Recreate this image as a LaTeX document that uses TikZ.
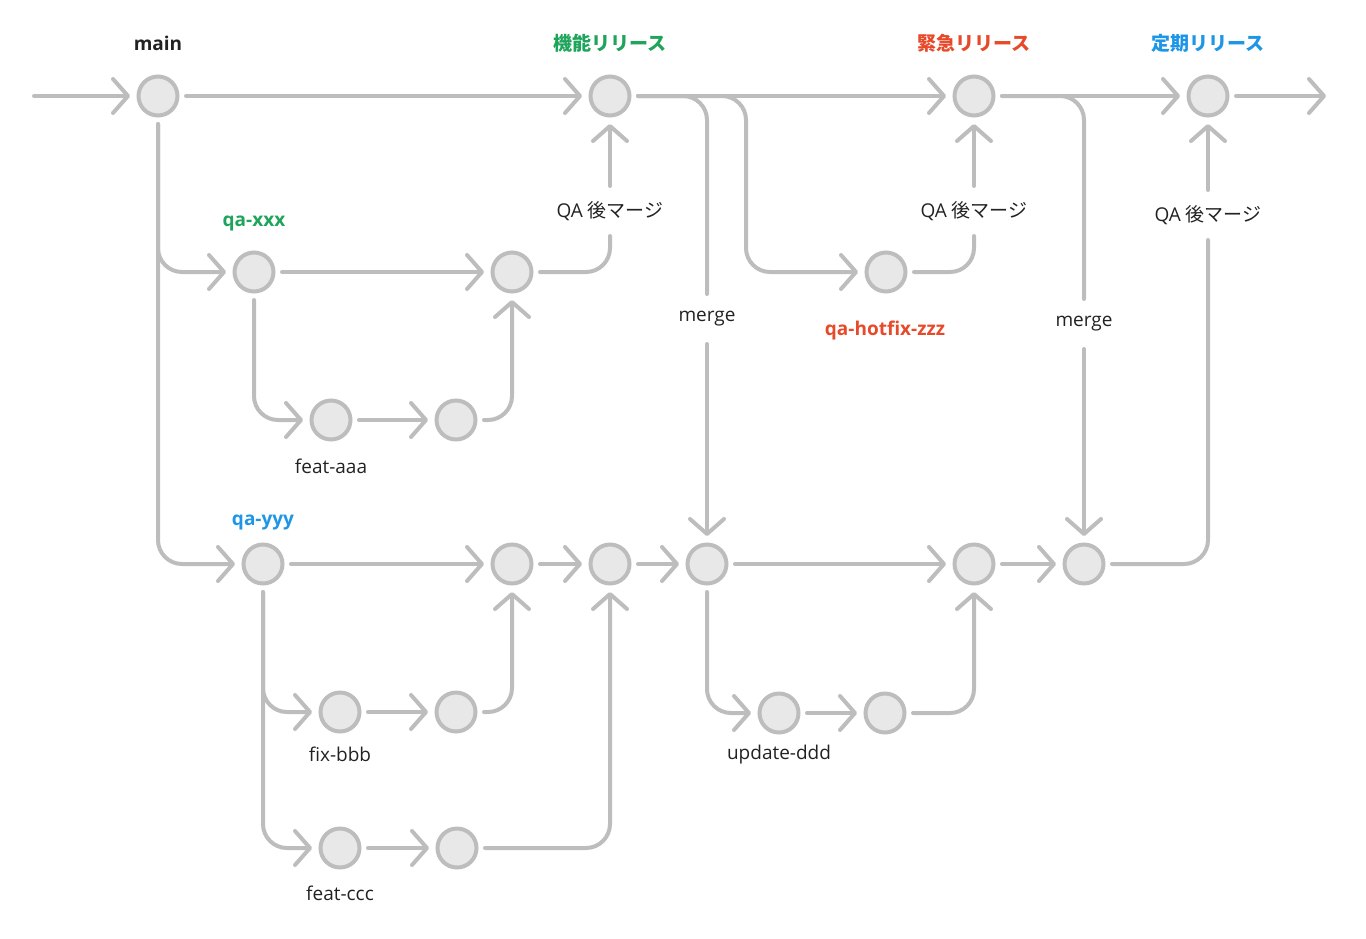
\documentclass[tikz,border=0pt]{standalone}
\usepackage{fontspec}
\setmainfont{Open Sans}
\newfontfamily\cjk{Noto Sans CJK JP}
\usetikzlibrary{arrows.meta}
\definecolor{ln}{HTML}{BDBDBD}
\definecolor{cfill}{HTML}{E8E8E8}
\definecolor{gr}{HTML}{1FA45B}
\definecolor{rd}{HTML}{E64A2A}
\definecolor{bl}{HTML}{1E96E6}
\definecolor{tx}{HTML}{222222}
\begin{document}
\begin{tikzpicture}[x=1pt,y=-1pt,
 commit/.style={circle,draw=ln,fill=cfill,line width=4pt,minimum size=39pt,inner sep=0pt,outer sep=8.5pt},
 conn/.style={draw=ln,line width=4pt,line cap=round,rounded corners=24pt},
 arr/.style={conn,-{Straight Barb[length=15pt,width=34pt,round]}},
 lbl/.style={font=\fontsize{19}{23}\selectfont,text=tx,inner sep=0pt},
 gap/.style={lbl,minimum height=46pt,outer sep=2pt},
 title/.style={font=\fontsize{19}{23}\selectfont\bfseries,inner sep=0pt},
]
\useasboundingbox (0,0) rectangle (1366,938);

% commits
\node[commit] (main) at (158,96) {};
\node[commit] (R1) at (610,96) {};
\node[commit] (R2) at (974,96) {};
\node[commit] (R3) at (1208,96) {};
\node[commit] (X1) at (254,272) {};
\node[commit] (X2) at (512,272) {};
\node[commit] (A1) at (331,420) {};
\node[commit] (A2) at (456,420) {};
\node[commit] (H1) at (886,272) {};
\node[commit] (Y1) at (263,564) {};
\node[commit] (Y2) at (512,564) {};
\node[commit] (Y3) at (610,564) {};
\node[commit] (M) at (707,564) {};
\node[commit] (Y5) at (974,564) {};
\node[commit] (Y6) at (1084,564) {};
\node[commit] (B1) at (340,712) {};
\node[commit] (B2) at (456,712) {};
\node[commit] (U1) at (779,713) {};
\node[commit] (U2) at (885,713) {};
\node[commit] (C1) at (340,848) {};
\node[commit] (C2) at (457,848) {};

\coordinate (start) at (34,96);
\coordinate (end) at (1326,96);
\coordinate (hk) at (746,272);

% titles
\node[title,text=tx] (tmain) at (158,43) {main};
\node[title,text=gr] (tr1) at (610,43) {\cjk 機能リリース};
\node[title,text=rd] (tr2) at (974,43) {\cjk 緊急リリース};
\node[title,text=bl] (tr3) at (1208,43) {\cjk 定期リリース};
\node[title,text=gr] (tqx) at (254,223) {qa-xxx};
\node[title,text=bl] (tqy) at (263,522) {qa-yyy};
\node[title,text=rd] (tqh) at (885,331) {qa-hotfix-zzz};
\node[lbl] (laaa) at (331,466) {feat-aaa};
\node[lbl] (lbbb) at (340,754) {fix-bbb};
\node[lbl] (lccc) at (340,893) {feat-ccc};
\node[lbl] (lddd) at (779,755) {update-ddd};

% gap labels
\node[gap] (qa1) at (610,211) {QA {\cjk 後マージ}};
\node[gap] (qa2) at (974,211) {QA {\cjk 後マージ}};
\node[gap] (qa3) at (1208,215) {QA {\cjk 後マージ}};
\node[gap] (mg1) at (707,319) {merge};
\node[gap] (mg2) at (1084,324) {merge};

% main line
\draw[arr] (start) -- (main);
\draw[arr] (main) -- (R1);
\draw[arr] (R1) -- (R2);
\draw[arr] (R2) -- (R3);
\draw[arr] (R3) -- (end);

% qa-xxx
\draw[arr] (main.south) |- (X1.west);
\draw[arr] (X1) -- (X2);
\draw[arr] (X1.south) |- (A1.west);
\draw[arr] (A1) -- (A2);
\draw[arr] (A2.east) -| (X2.south);
\draw[conn] (X2.east) -| (qa1.south);
\draw[arr] (qa1.north) -- (R1.south);

% hotfix
\draw[arr] (R1.east) -| (hk) -- (H1.west);
\draw[conn] (H1.east) -| (qa2.south);
\draw[arr] (qa2.north) -- (R2.south);

% merges
\draw[conn] (R1.east) -| (mg1.north);
\draw[arr] (mg1.south) -- (M.north);
\draw[conn] (R2.east) -| (mg2.north);
\draw[arr] (mg2.south) -- (Y6.north);

% qa-yyy
\draw[arr] (main.south) |- (Y1.west);
\draw[arr] (Y1) -- (Y2);
\draw[arr] (Y2) -- (Y3);
\draw[arr] (Y3) -- (M);
\draw[arr] (M) -- (Y5);
\draw[arr] (Y5) -- (Y6);
\draw[conn] (Y6.east) -| (qa3.south);
\draw[arr] (qa3.north) -- (R3.south);

\draw[arr] (Y1.south) |- (B1.west);
\draw[arr] (B1) -- (B2);
\draw[arr] (B2.east) -| (Y2.south);
\draw[arr] (Y1.south) |- (C1.west);
\draw[arr] (C1) -- (C2);
\draw[arr] (C2.east) -| (Y3.south);

\draw[arr] (M.south) |- (U1.west);
\draw[arr] (U1) -- (U2);
\draw[arr] (U2.east) -| (Y5.south);
\end{tikzpicture}
\end{document}
